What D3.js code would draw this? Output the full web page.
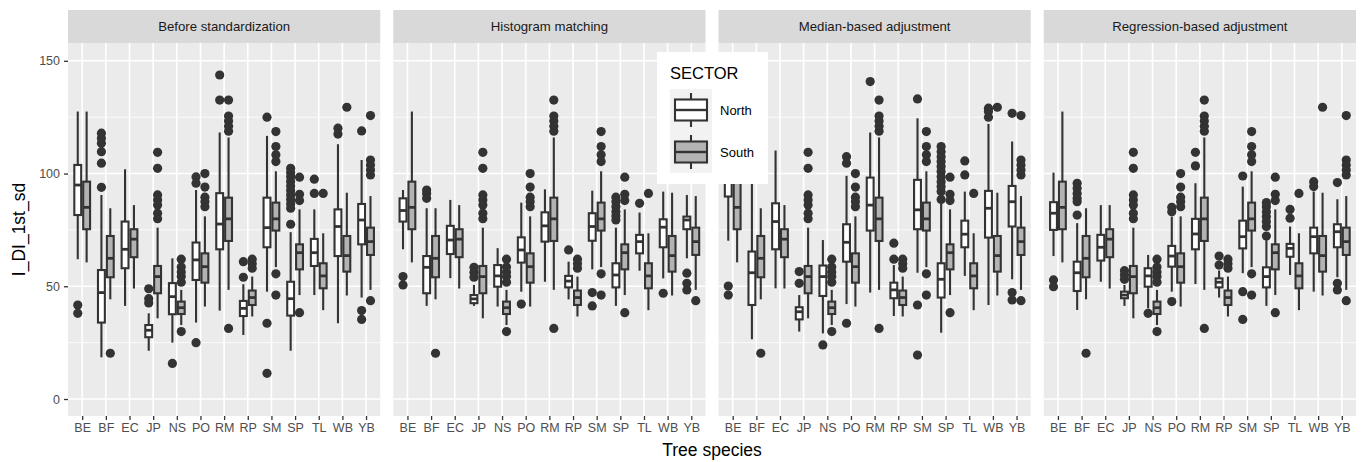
<!DOCTYPE html>
<html>
<head>
<meta charset="utf-8">
<script src="https://cdn.jsdelivr.net/npm/d3@7"></script>
<style>
  body { margin: 0; background: #ffffff; }
  text { font-family: "Liberation Sans", Arial, sans-serif; }
</style>
</head>
<body>
<div id="chart"></div>
<script>
// species on the x axis (same in every facet)
var species = ["BE", "BF", "EC", "JP", "NS", "PO", "RM", "RP", "SM", "SP", "TL", "WB", "YB"];
var methods = ["Before standardization", "Histogram matching", "Median-based adjustment", "Regression-based adjustment"];
var sectors = ["North", "South"];
var yTicks = [0, 50, 100, 150];

// box stats: [lower whisker, Q1, median, Q3, upper whisker]
// South is the reference sector, it is the same in every facet
var southBox = [[60.6, 75.3, 85, 96.4, 127.5], [44.2, 54, 62.4, 72.3, 84.6], [49, 62.9, 70.9, 75.3, 86], [35.8, 46.9, 54.3, 59, 76],
  [32.8, 37.7, 40.5, 43.2, 48.4], [41, 51.6, 58.7, 64.6, 81], [48.4, 70.1, 79.9, 89.3, 116], [36.6, 41.7, 45, 48.1, 54.3],
  [58.5, 74.7, 79.9, 87.1, 101], [46.1, 57.5, 64.9, 68.6, 84.1], [39.4, 49.1, 54.6, 60.2, 73.5], [45.9, 56.5, 63.6, 72.3, 91.5],
  [48.4, 63.9, 69.8, 76, 90]];
var southOut = [[], [20.3], [], [109.4, 102.3, 90.5, 88.3, 86, 82.4, 80],
  [62, 58.5, 56.3, 54.3, 51.8, 29.9], [100, 94, 89.5, 87.5, 85.3], [132.6, 125.5, 123.3, 121, 118.8, 31.3], [62, 60, 58],
  [118.6, 112, 108.3, 105.3, 55.5, 46.1], [98.4, 90.8, 88, 38.3], [91.2], [129.4],
  [125.7, 106, 103.8, 101.6, 99.4, 43.6]];

var northBefore = [[62, 81.6, 94.9, 103.8, 127.5], [18.5, 33.9, 47.2, 57.2, 90.5], [41.3, 58, 66.4, 78.7, 101.9], [21.4, 27.4, 30.5, 32.8, 38],
  [25, 37.6, 45.4, 51.4, 62.4], [33.9, 52.8, 61.7, 69.4, 92.7], [39.2, 66.4, 77.6, 91.3, 118.2], [28.4, 36.8, 40.2, 43.5, 50.9],
  [47.6, 67.3, 76, 89.3, 116.7], [21.4, 37, 44.5, 52, 74], [46.1, 59, 64.9, 71, 84.1], [33.6, 63.4, 76.5, 84.1, 113],
  [45, 68.6, 79.4, 86.5, 106]];
var northBeforeOut = [[41.7, 38], [117.9, 115.6, 113.4, 109.7, 104.6, 93.9], [], [48.9, 44.5, 42.6],
  [15.8], [98.5, 95.7, 25], [143.7, 132.6], [60.9, 54],
  [125, 33.6, 11.4], [102.3, 100.5, 98.6, 96.5, 94.5, 92.5, 90.5, 88.5, 86.5, 84.6, 77.5], [97.5, 91.2], [120.1, 117.5],
  [118.9, 39.2, 35.3]];

var northHist = [[66.4, 78.7, 83.6, 89, 92.7], [41.3, 46.9, 58.4, 63.4, 84.6], [53.6, 64.3, 70.5, 76.8, 88.3], [41.3, 42.5, 44.4, 46.1, 50.6],
  [41, 49.8, 54.6, 59.4, 66.9], [47.6, 60.5, 66.1, 71.7, 87.1], [52, 69.8, 76.8, 82.8, 93], [44.2, 49.5, 52.3, 54.6, 60.9],
  [57.5, 70.2, 76.5, 82.4, 92.4], [41.3, 49.5, 55, 60.2, 76], [56.9, 64.6, 69.8, 72.8, 82.7], [53.5, 67.3, 76.2, 79.7, 92],
  [62.4, 75.3, 79.4, 80.9, 90.5]];
var northHistOut = [[54.3, 50.6], [92.7, 91.2, 89], [], [58.4, 56.2, 54],
  [], [42.1], [], [66.1],
  [47.2, 41.3], [89.5, 87.5, 85.3, 83.1, 81.2, 79.4], [86.8], [46.9],
  [55.8, 51.3, 48.4]];

var northMedian = [[70.2, 89.8, 100, 110, 130], [26.5, 41.7, 56, 65.4, 99], [49.1, 66.4, 78.7, 86.8, 110.2], [29.9, 35.3, 38.7, 40.7, 46.1],
  [29.1, 45.7, 54.3, 59.2, 70.5], [42.1, 60.9, 69.5, 77.5, 99], [47.2, 74.7, 86, 98.2, 118.2], [36.8, 44.7, 48.4, 51.6, 59.4],
  [56, 75.3, 83.9, 97.2, 124.5], [29.4, 45, 53.1, 60.2, 86.5], [54.6, 67.3, 73.1, 79.1, 92], [41.7, 71.6, 84.6, 92.3, 122],
  [53.1, 76.5, 87.5, 94.5, 114.2]];
var northMedianOut = [[50.1, 46.1], [126.5, 122, 120, 118, 103], [], [56.5, 51.3],
  [24], [107.5, 104.6, 33.6], [140.8], [69.1, 62],
  [133.1, 41.7, 19.5], [112, 109.7, 107.5, 105.3, 103.1, 100.9, 98.6, 96.4, 94.2, 92, 88.5], [105.6, 99.4], [129, 127.5, 125],
  [126.7, 47.2, 43.9]];

var northRegr = [[63.4, 75, 82.4, 87.3, 100.4], [39.5, 47.9, 56, 60.9, 78], [52, 61.4, 67.3, 72.8, 86], [41.3, 44.7, 46.1, 47.6, 50.6],
  [40.2, 49.8, 54.6, 58, 63.9], [47.6, 58.7, 63.4, 67.9, 80.9], [51, 66.4, 73.2, 79.9, 95.7], [45, 49.5, 51.8, 53.5, 57],
  [55.8, 66.8, 72, 79.1, 94.2], [41.3, 49.5, 54.3, 58.4, 70.5], [55, 63.1, 66.8, 68.8, 76.5], [47.6, 64.6, 72, 76, 92],
  [54, 67.3, 74.2, 77.5, 88.6]];
var northRegrOut = [[52.8, 49.8], [95.7, 93.5, 91.2, 89, 87.5, 81.6], [], [56.9, 55, 53.1],
  [38], [85, 83.1, 43.2], [109.4, 103.4], [63.4, 59.4],
  [98.9, 47.6, 35.3], [87.1, 85.3, 83.1, 80.9, 78.7, 76.5, 72.3], [84.1, 80.2], [96.4, 94.2],
  [96, 51.3, 48.4]];

var northBoxes = [northBefore, northHist, northMedian, northRegr];
var northOuts = [northBeforeOut, northHistOut, northMedianOut, northRegrOut];

var W = 1362, H = 462;
var left = 68, right = 1356, gap = 13;
var stripTop = 10, stripBot = 43, panelBot = 416;
var panelW = (right - left - gap * 3) / 4;
var fills = { North: "#ffffff", South: "#b3b3b3" };
var ink = "#333333";

var svg = d3.select("#chart").append("svg")
  .attr("width", W)
  .attr("height", H);

var y = d3.scaleLinear().domain([-7.54, 157.9]).range([panelBot, stripBot]);

methods.forEach(function(m, pi) {
  var x0 = left + pi * (panelW + gap);
  var x = d3.scalePoint().domain(species).range([x0, x0 + panelW]).padding(0.6);
  var step = x.step();
  var bw = step * 0.375;

  var g = svg.append("g");

  // panel background + strip
  g.append("rect").attr("x", x0).attr("y", stripBot).attr("width", panelW).attr("height", panelBot - stripBot).attr("fill", "#ebebeb");
  g.append("rect").attr("x", x0).attr("y", stripTop).attr("width", panelW).attr("height", stripBot - stripTop).attr("fill", "#d9d9d9");
  g.append("text").attr("x", x0 + panelW / 2).attr("y", (stripTop + stripBot) / 2 + 4.7)
    .attr("text-anchor", "middle").attr("font-size", 13.2).attr("fill", "#1a1a1a").text(m);

  // grid
  [25, 75, 125].forEach(function(v) {
    g.append("line").attr("x1", x0).attr("x2", x0 + panelW).attr("y1", y(v)).attr("y2", y(v))
      .attr("stroke", "#ffffff").attr("stroke-width", 0.8);
  });
  yTicks.forEach(function(v) {
    g.append("line").attr("x1", x0).attr("x2", x0 + panelW).attr("y1", y(v)).attr("y2", y(v))
      .attr("stroke", "#ffffff").attr("stroke-width", 1.6);
  });
  species.forEach(function(s) {
    g.append("line").attr("x1", x(s)).attr("x2", x(s)).attr("y1", stripBot).attr("y2", panelBot)
      .attr("stroke", "#ffffff").attr("stroke-width", 1.6);
  });

  // x axis
  var xa = g.append("g").attr("transform", "translate(0," + panelBot + ")")
    .call(d3.axisBottom(x).tickSize(4).tickPadding(3));
  xa.select(".domain").remove();
  xa.selectAll("line").attr("stroke", ink).attr("stroke-width", 1.3);
  xa.selectAll("text").attr("font-size", 12.5).attr("fill", "#4d4d4d")
    .attr("font-family", "Liberation Sans, Arial, sans-serif");

  // boxes
  sectors.forEach(function(sec, si) {
    var boxes = sec === "South" ? southBox : northBoxes[pi];
    var outs = sec === "South" ? southOut : northOuts[pi];
    species.forEach(function(s, i) {
      var b = boxes[i];
      var cx = x(s) + (si === 0 ? -bw / 2 : bw / 2);
      var bg = g.append("g");
      bg.append("line").attr("x1", cx).attr("x2", cx).attr("y1", y(b[4])).attr("y2", y(b[3]))
        .attr("stroke", ink).attr("stroke-width", 2.1);
      bg.append("line").attr("x1", cx).attr("x2", cx).attr("y1", y(b[1])).attr("y2", y(b[0]))
        .attr("stroke", ink).attr("stroke-width", 2.1);
      bg.append("rect").attr("x", cx - bw / 2 + 1).attr("y", y(b[3])).attr("width", bw - 2)
        .attr("height", y(b[1]) - y(b[3]))
        .attr("fill", fills[sec]).attr("stroke", ink).attr("stroke-width", 2.1);
      bg.append("line").attr("x1", cx - bw / 2 + 1).attr("x2", cx + bw / 2 - 1).attr("y1", y(b[2])).attr("y2", y(b[2]))
        .attr("stroke", ink).attr("stroke-width", 2.8);
      bg.selectAll("circle").data(outs[i]).enter().append("circle")
        .attr("cx", cx).attr("cy", function(v) { return y(v); }).attr("r", 4.6).attr("fill", ink);
    });
  });

  // y axis on the first panel only
  if (pi === 0) {
    var ya = svg.append("g").attr("transform", "translate(" + x0 + ",0)")
      .call(d3.axisLeft(y).tickValues(yTicks).tickSize(4).tickPadding(4));
    ya.select(".domain").remove();
    ya.selectAll("line").attr("stroke", ink).attr("stroke-width", 1.3);
    ya.selectAll("text").attr("font-size", 12.5).attr("fill", "#4d4d4d")
      .attr("font-family", "Liberation Sans, Arial, sans-serif");
  }
});

// axis titles
svg.append("text").attr("x", (left + right) / 2).attr("y", 456).attr("text-anchor", "middle")
  .attr("font-size", 17.5).attr("fill", "#000").text("Tree species");
svg.append("text").attr("transform", "translate(25," + (stripBot + panelBot) / 2 + ") rotate(-90)")
  .attr("text-anchor", "middle").attr("font-size", 17.5).attr("fill", "#000").text("I_DI_1st_sd");

// legend (sits inside the plot, over panels 2 and 3)
var lg = svg.append("g");
lg.append("rect").attr("x", 657).attr("y", 52).attr("width", 111).attr("height", 132).attr("fill", "#ffffff");
lg.append("text").attr("x", 670).attr("y", 79).attr("font-size", 16.5).attr("fill", "#000").text("SECTOR");
lg.append("rect").attr("x", 670).attr("y", 89).attr("width", 42).attr("height", 84).attr("fill", "#f2f2f2");
sectors.forEach(function(sec, i) {
  var top = 89 + i * 42;
  var kx = 691;
  lg.append("line").attr("x1", kx).attr("x2", kx).attr("y1", top + 4).attr("y2", top + 38)
    .attr("stroke", ink).attr("stroke-width", 2.1);
  lg.append("rect").attr("x", 675).attr("y", top + 10.5).attr("width", 32).attr("height", 21)
    .attr("fill", fills[sec]).attr("stroke", ink).attr("stroke-width", 2.1);
  lg.append("line").attr("x1", 675).attr("x2", 707).attr("y1", top + 21).attr("y2", top + 21)
    .attr("stroke", ink).attr("stroke-width", 2.4);
  lg.append("text").attr("x", 720).attr("y", top + 25.5).attr("font-size", 13).attr("fill", "#000").text(sec);
});
</script>
</body>
</html>
